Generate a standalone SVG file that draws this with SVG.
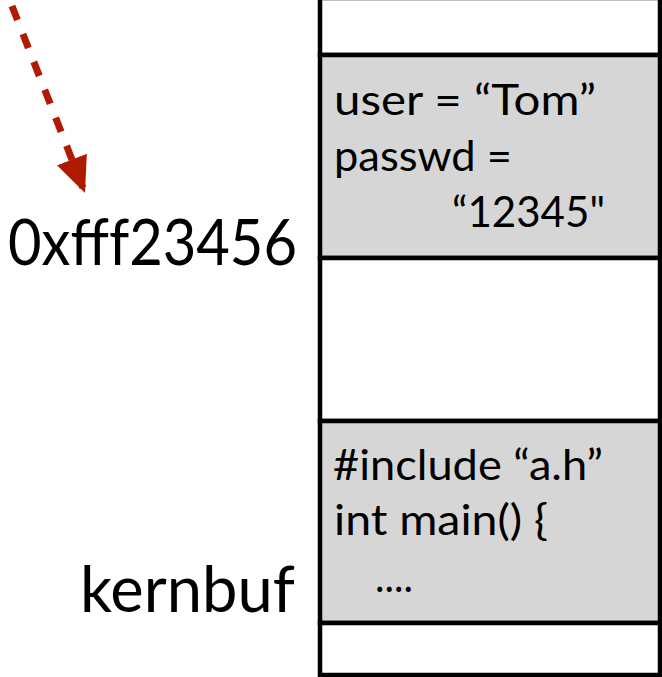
<svg xmlns="http://www.w3.org/2000/svg" width="662" height="677" viewBox="0 0 662 677">
  <style>
    .cell { stroke: #000; stroke-width: 4.5; }
    .empty { fill: #fff; }
    .filled { fill: #d6d6d6; }
    .code { font-family: Lato, "Open Sans", sans-serif; font-size: 42px; fill: #000; }
    .label { font-family: Lato, "Open Sans", sans-serif; font-size: 64px; fill: #000; }
    .ptr { stroke: #b01a00; stroke-width: 7; stroke-dasharray: 15 15; fill: none; }
  </style>
  <defs>
    <marker id="head" markerUnits="userSpaceOnUse" markerWidth="40" markerHeight="40" refX="36" refY="16" orient="auto" viewBox="0 0 40 32">
      <path d="M0,0 L36,16 L0,32 Z" fill="#b01a00"/>
    </marker>
  </defs>

  <!-- memory column -->
  <g id="slot-top"><rect class="cell empty" x="320" y="-2" width="340" height="57"/></g>
  <g id="slot-creds">
    <rect class="cell filled" x="320" y="55" width="340" height="203"/>
    <text class="code" x="334" y="115" textLength="262" lengthAdjust="spacingAndGlyphs">user = “Tom”</text>
    <text class="code" x="334" y="171" textLength="178" lengthAdjust="spacingAndGlyphs">passwd =</text>
    <text class="code" x="452" y="227" textLength="153" lengthAdjust="spacingAndGlyphs">“12345"</text>
  </g>
  <g id="slot-gap"><rect class="cell empty" x="320" y="258" width="340" height="163"/></g>
  <g id="slot-code">
    <rect class="cell filled" x="320" y="421" width="340" height="202"/>
    <text class="code" x="333" y="480" textLength="270" lengthAdjust="spacingAndGlyphs">#include “a.h”</text>
    <text class="code" x="334" y="535" textLength="214" lengthAdjust="spacingAndGlyphs">int main() {</text>
    <text class="code" x="375" y="592" textLength="38" lengthAdjust="spacingAndGlyphs">....</text>
  </g>
  <g id="slot-bottom"><rect class="cell empty" x="320" y="623" width="340" height="52"/></g>

  <!-- address labels -->
  <g id="label-addr"><text class="label" x="8" y="265" textLength="289" lengthAdjust="spacingAndGlyphs">0xfff23456</text></g>
  <g id="label-kernbuf"><text class="label" x="80" y="612" textLength="215" lengthAdjust="spacingAndGlyphs">kernbuf</text></g>

  <!-- connectors -->
  <g id="connectors">
    <path class="ptr" d="M12,6 L85,193" marker-end="url(#head)"/>
  </g>
</svg>
